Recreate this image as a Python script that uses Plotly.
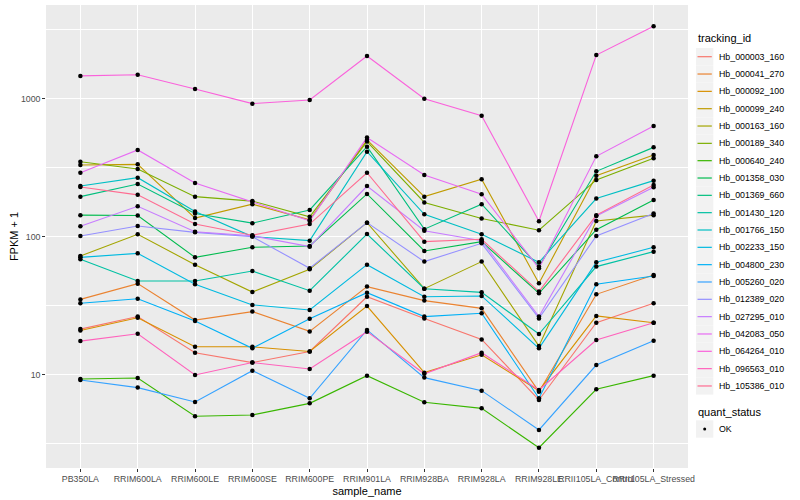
import plotly.graph_objects as go

samples = ["PB350LA", "RRIM600LA", "RRIM600LE", "RRIM600SE", "RRIM600PE", "RRIM901LA",
           "RRIM928BA", "RRIM928LA", "RRIM928LE", "RRII105LA_Control", "RRII105LA_Stressed"]

tracking_ids = ["Hb_000003_160", "Hb_000041_270", "Hb_000092_100", "Hb_000099_240",
                "Hb_000163_160", "Hb_000189_340", "Hb_000640_240", "Hb_001358_030",
                "Hb_001369_660", "Hb_001430_120", "Hb_001766_150", "Hb_002233_150",
                "Hb_004800_230", "Hb_005260_020", "Hb_012389_020", "Hb_027295_010",
                "Hb_042083_050", "Hb_064264_010", "Hb_096563_010", "Hb_105386_010"]

colors = ["#F8766D", "#EA8331", "#D89000", "#C09B00", "#A3A500", "#7CAE00", "#39B600",
          "#00BB4E", "#00BF7D", "#00C1A3", "#00BFC4", "#00BAE0", "#00B0F6", "#35A2FF",
          "#9590FF", "#C77CFF", "#E76BF3", "#FA62DB", "#FF62BC", "#FF6C91"]

# FPKM + 1 per sample (same order as samples)
hb_000003_160 = [21.5, 26.5, 14.5, 12.3, 14.8, 36.9, 25.7, 18.1, 6.59, 23.9, 33.1]
hb_000041_270 = [35.3, 45.9, 25.0, 28.8, 20.7, 43.7, 34.6, 30.4, 7.57, 38.4, 53.0]
hb_000092_100 = [21.0, 26.0, 16.0, 16.0, 14.8, 31.6, 10.4, 14.0, 7.7, 26.8, 23.9]
hb_000099_240 = [332, 336, 137, 173, 133, 505, 196, 262, 46.2, 278, 393]
hb_000163_160 = [72.8, 104.5, 63.0, 39.9, 58.3, 127, 42.2, 66.3, 16.2, 130.6, 144]
hb_000189_340 = [351, 311, 196, 182, 140, 491, 178, 136, 112, 259, 372]
hb_000640_240 = [9.35, 9.51, 5.02, 5.13, 6.23, 9.89, 6.34, 5.73, 2.97, 7.87, 9.89]
hb_001358_030 = [144, 143, 71.2, 84.2, 86.1, 205, 79.2, 92.5, 39.1, 113, 185]
hb_001369_660 = [196, 242, 148, 126, 157, 451, 114, 173, 61.0, 299, 446]
hb_001430_120 = [68.9, 48.0, 48.0, 56.7, 40.8, 105, 42.2, 39.7, 19.8, 61.0, 78.3]
hb_001766_150 = [234, 269, 153, 100.6, 94.1, 415, 146, 104.5, 65.5, 190, 256]
hb_002233_150 = [71.2, 76.1, 45.4, 32.2, 29.6, 63.0, 36.9, 37.4, 15.6, 65.5, 84.2]
hb_004800_230 = [33.1, 35.7, 24.6, 15.6, 25.6, 39.5, 26.5, 28.0, 6.78, 45.4, 52.2]
hb_005260_020 = [9.2, 8.1, 6.37, 10.75, 6.78, 21.2, 9.57, 7.7, 4.0, 11.8, 17.7]
hb_012389_020 = [101.7, 120, 108, 100.6, 59.3, 127, 66.3, 90.0, 25.7, 101.7, 148]
hb_027295_010 = [119.5, 167, 109, 102, 85.1, 234, 111, 94.1, 26.5, 142, 229]
hb_042083_050 = [292, 427, 246, 180, 131, 525, 281, 204, 59.3, 384, 637]
hb_064264_010 = [1470, 1500, 1180, 925, 984, 2050, 1005, 757, 130, 2080, 3360]
hb_096563_010 = [17.6, 19.9, 10.0, 12.3, 11.05, 20.6, 10.2, 14.5, 7.78, 17.9, 23.9]
hb_105386_010 = [230, 202, 124, 103, 124, 292, 92.5, 96.2, 40.2, 144, 238]

series = [hb_000003_160, hb_000041_270, hb_000092_100, hb_000099_240, hb_000163_160,
          hb_000189_340, hb_000640_240, hb_001358_030, hb_001369_660, hb_001430_120,
          hb_001766_150, hb_002233_150, hb_004800_230, hb_005260_020, hb_012389_020,
          hb_027295_010, hb_042083_050, hb_064264_010, hb_096563_010, hb_105386_010]

y_major = [10, 100, 1000]
y_minor = [3.1623, 31.623, 316.23, 3162.3]

W, H = 800, 500
L, R, T, B = 46, 688, 5, 468
FONT = "Liberation Sans, Arial, sans-serif"


def px(x):
    return (x - L) / (R - L)


def py(y):
    return (B - y) / (B - T)


fig = go.Figure()
for name, vals, col in zip(tracking_ids, series, colors):
    fig.add_trace(go.Scatter(x=samples, y=vals, mode="lines", name=name,
                             line=dict(color=col, width=1.1), showlegend=False))

all_x, all_y = [], []
for vals in series:
    all_x.extend(samples)
    all_y.extend(vals)
fig.add_trace(go.Scatter(x=all_x, y=all_y, mode="markers", name="OK",
                         marker=dict(color="black", size=4.5), showlegend=False))

# manual ggplot-style legends
shapes = []
annotations = []
annotations.append(dict(text="tracking_id", x=px(696), y=py(38), xref="paper", yref="paper",
                        xanchor="left", yanchor="middle", showarrow=False,
                        font=dict(family=FONT, size=11, color="black")))
step = 17.33
for i, (name, col) in enumerate(zip(tracking_ids, colors)):
    cy = 56.7 + i * step
    shapes.append(dict(type="rect", xref="paper", yref="paper",
                       x0=px(696), x1=px(713.3), y0=py(cy - step / 2), y1=py(cy + step / 2),
                       fillcolor="#F2F2F2", line=dict(width=0), layer="below"))
    shapes.append(dict(type="line", xref="paper", yref="paper",
                       x0=px(697.5), x1=px(711.8), y0=py(cy), y1=py(cy),
                       line=dict(color=col, width=1.2)))
    annotations.append(dict(text=name, x=px(716.5), y=py(cy), xref="paper", yref="paper",
                            xanchor="left", yanchor="middle", showarrow=False,
                            font=dict(family=FONT, size=8.8, color="black")))

annotations.append(dict(text="quant_status", x=px(696), y=py(412), xref="paper", yref="paper",
                        xanchor="left", yanchor="middle", showarrow=False,
                        font=dict(family=FONT, size=11, color="black")))
ok_y = 429
shapes.append(dict(type="rect", xref="paper", yref="paper",
                   x0=px(696), x1=px(713.3), y0=py(ok_y - step / 2), y1=py(ok_y + step / 2),
                   fillcolor="#F2F2F2", line=dict(width=0), layer="below"))
shapes.append(dict(type="circle", xref="paper", yref="paper",
                   x0=px(703.2), x1=px(706.2), y0=py(ok_y - 1.5), y1=py(ok_y + 1.5),
                   fillcolor="black", line=dict(width=0)))
annotations.append(dict(text="OK", x=px(716.5), y=py(ok_y), xref="paper", yref="paper",
                        xanchor="left", yanchor="middle", showarrow=False,
                        font=dict(family=FONT, size=8.8, color="black")))

fig.update_layout(
    width=W, height=H,
    margin=dict(l=L, r=W - R, t=T, b=H - B, autoexpand=False),
    paper_bgcolor="white",
    plot_bgcolor="#EBEBEB",
    showlegend=False,
    font=dict(family=FONT),
    shapes=shapes,
    annotations=annotations,
    xaxis=dict(
        type="category", range=[-0.6, 10.6],
        tickmode="array", tickvals=samples, ticktext=samples, tickangle=0,
        showgrid=True, gridcolor="white", gridwidth=1.1,
        zeroline=False, showline=False,
        ticks="outside", ticklen=2.75, tickcolor="#333333", tickwidth=1,
        tickfont=dict(family=FONT, size=8.8, color="#4D4D4D"),
        title=dict(text="sample_name", font=dict(family=FONT, size=11, color="black"),
                   standoff=3),
        automargin=False,
    ),
    yaxis=dict(
        type="log", range=[0.326, 3.681],
        tickmode="array", tickvals=y_major, ticktext=["10", "100", "1000"],
        showgrid=True, gridcolor="white", gridwidth=1.1,
        minor=dict(tickmode="array", tickvals=y_minor, showgrid=True,
                   gridcolor="white", gridwidth=0.55, ticks=""),
        zeroline=False, showline=False,
        ticks="outside", ticklen=2.75, tickcolor="#333333", tickwidth=1,
        tickfont=dict(family=FONT, size=8.8, color="#4D4D4D"),
        title=dict(text="FPKM + 1", font=dict(family=FONT, size=11, color="black"),
                   standoff=0),
        automargin=False,
    ),
)

fig.write_html("out.html",
               config={"displayModeBar": False},
               post_script="document.body.style.margin='0';document.body.style.padding='0';")
